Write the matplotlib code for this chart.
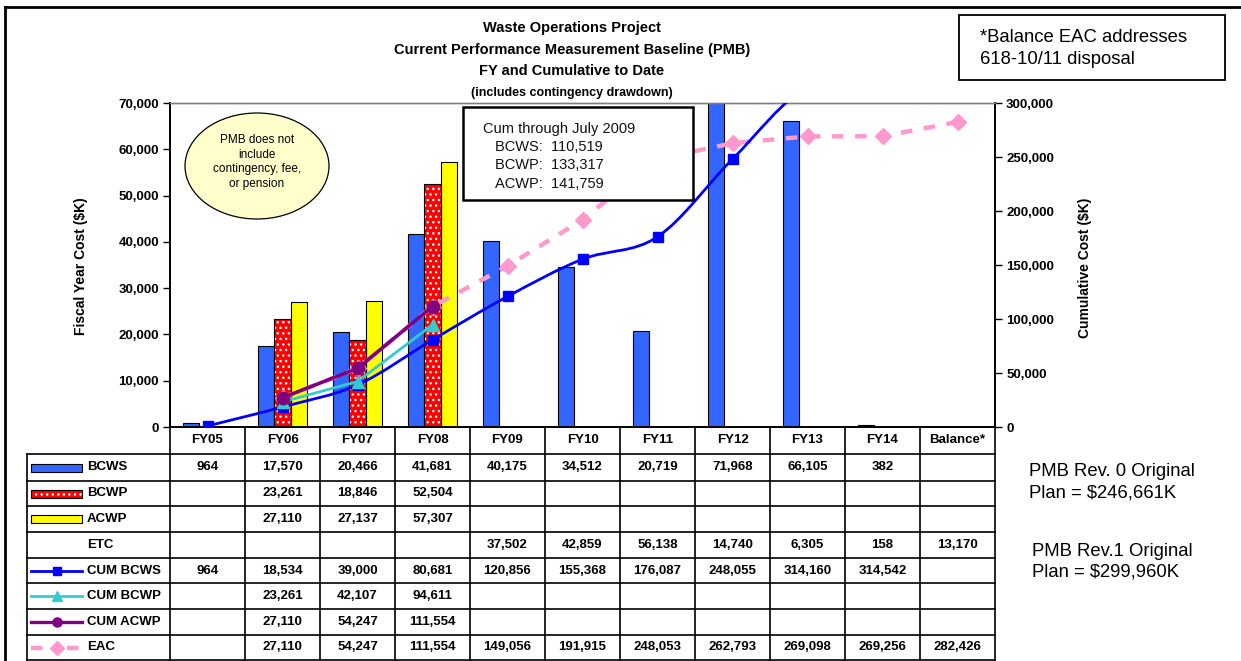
import matplotlib
matplotlib.use('Agg')
import matplotlib.pyplot as plt
import matplotlib.transforms as mtransforms
from matplotlib.patches import Rectangle, Ellipse, PathPatch
from matplotlib.lines import Line2D
from matplotlib.path import Path
from matplotlib.ticker import FuncFormatter
import numpy as np

# ---------------- data ----------------
categories = ['FY05', 'FY06', 'FY07', 'FY08', 'FY09', 'FY10', 'FY11', 'FY12', 'FY13', 'FY14', 'Balance*']
bcws = [964, 17570, 20466, 41681, 40175, 34512, 20719, 71968, 66105, 382, None]
bcwp = [None, 23261, 18846, 52504, None, None, None, None, None, None, None]
acwp = [None, 27110, 27137, 57307, None, None, None, None, None, None, None]
etc = [None, None, None, None, 37502, 42859, 56138, 14740, 6305, 158, 13170]
cum_bcws = [964, 18534, 39000, 80681, 120856, 155368, 176087, 248055, 314160, 314542, None]
cum_bcwp = [None, 23261, 42107, 94611, None, None, None, None, None, None, None]
cum_acwp = [None, 27110, 54247, 111554, None, None, None, None, None, None, None]
eac = [None, 27110, 54247, 111554, 149056, 191915, 248053, 262793, 269098, 269256, 282426]

left_ticks = [0, 10000, 20000, 30000, 40000, 50000, 60000, 70000]
right_ticks = [0, 50000, 100000, 150000, 200000, 250000, 300000]

row_labels = ['BCWS', 'BCWP', 'ACWP', 'ETC', 'CUM BCWS', 'CUM BCWP', 'CUM ACWP', 'EAC']
row_values = [bcws, bcwp, acwp, etc, cum_bcws, cum_bcwp, cum_acwp, eac]

title_lines = ['Waste Operations Project', 'Current Performance Measurement Baseline (PMB)',
               'FY and Cumulative to Date']
subtitle = '(includes contingency drawdown)'
cum_box_lines = ['Cum through July 2009', 'BCWS:  110,519', 'BCWP:  133,317', 'ACWP:  141,759']
ellipse_text = 'PMB does not\ninclude\ncontingency, fee,\nor pension'
note_lines = ['*Balance EAC addresses', '618-10/11 disposal']
rev0_lines = ['PMB Rev. 0 Original', 'Plan = $246,661K']
rev1_lines = ['PMB Rev.1 Original', 'Plan = $299,960K']

# ---------------- style ----------------
plt.rcParams['font.family'] = ['Liberation Sans', 'DejaVu Sans']
C_BCWS = '#3366FF'
C_BCWP = '#FF0000'
C_ACWP = '#FFFF00'
C_CBCWS = '#0000FF'
C_CBCWP = '#33CCCC'
C_CACWP = '#800080'
C_EAC = '#FF99CC'
HATCH = '...'

W, H = 1241, 661
fig = plt.figure(figsize=(W / 100, H / 100), dpi=100)


def fx(x):
    return x / W


def fy(y):
    return 1 - y / H


AX_L, AX_R, AX_T, AX_B = 170, 995, 103, 427
ax = fig.add_axes([fx(AX_L), fy(AX_B), (AX_R - AX_L) / W, (AX_B - AX_T) / H])
ax2 = ax.twinx()

n = len(categories)
x = np.arange(n)
ax.set_xlim(-0.5, n - 0.5)
ax.set_ylim(left_ticks[0], left_ticks[-1])
ax2.set_ylim(right_ticks[0], right_ticks[-1])

bw = 0.215


def sel(vals):
    idx = [i for i, v in enumerate(vals) if v is not None]
    return np.array(idx), np.array([vals[i] for i in idx], dtype=float)


plt.rcParams['hatch.linewidth'] = 1.0
# bars
i_b, v_b = sel(bcws)
ax.bar(i_b - bw, v_b, width=bw, color=C_BCWS, edgecolor='black', linewidth=0.8, zorder=2)
i_p, v_p = sel(bcwp)
ax.bar(i_p, v_p, width=bw, color=C_BCWP, edgecolor='white', hatch=HATCH, linewidth=0, zorder=2)
ax.bar(i_p, v_p, width=bw, fill=False, edgecolor='black', linewidth=0.8, zorder=2.1)
i_a, v_a = sel(acwp)
ax.bar(i_a + bw, v_a, width=bw, color=C_ACWP, edgecolor='black', linewidth=0.8, zorder=2)

# lines on the cumulative axis
i_e, v_e = sel(eac)
ax2.plot(i_e, v_e, color=C_EAC, lw=3.2, ls=(0, (2.6, 2.6)), marker='D', ms=8.5,
         markeredgecolor=C_EAC, zorder=3)

i_c, v_c = sel(cum_bcws)
pts = np.column_stack([i_c, v_c])
verts = [tuple(pts[0])]
codes = [Path.MOVETO]
for k in range(len(pts) - 1):
    p0 = pts[k - 1] if k > 0 else pts[k]
    p1 = pts[k]
    p2 = pts[k + 1]
    p3 = pts[k + 2] if k + 2 < len(pts) else pts[k + 1]
    c1 = p1 + (p2 - p0) / 6.0
    c2 = p2 - (p3 - p1) / 6.0
    verts += [tuple(c1), tuple(c2), tuple(p2)]
    codes += [Path.CURVE4, Path.CURVE4, Path.CURVE4]
ax2.add_patch(PathPatch(Path(verts, codes), fill=False, edgecolor=C_CBCWS, lw=2.0, zorder=4))
ax2.plot(i_c, v_c, ls='none', marker='s', ms=6.5, color=C_CBCWS, zorder=4.5)

i_cp, v_cp = sel(cum_bcwp)
ax2.plot(i_cp, v_cp, color=C_CBCWP, lw=2.0, marker='^', ms=9, zorder=5)
i_ca, v_ca = sel(cum_acwp)
ax2.plot(i_ca, v_ca, color=C_CACWP, lw=2.6, marker='o', ms=9, zorder=6)

# axes styling
fmt = FuncFormatter(lambda v, p: f'{int(v):,}')
for a, ticks in ((ax, left_ticks), (ax2, right_ticks)):
    a.set_yticks(ticks)
    a.yaxis.set_major_formatter(fmt)
    a.tick_params(axis='y', direction='out', length=5, width=1, labelsize=9.5, pad=3)
    for lbl in a.get_yticklabels():
        lbl.set_fontweight('bold')
ax.set_xticks(x)
ax.set_xticklabels(categories, fontweight='bold', fontsize=9.5)
ax.tick_params(axis='x', length=0, pad=5)
for a in (ax, ax2):
    a.spines['top'].set_color('#808080')
    a.spines['top'].set_linewidth(1.0)
    a.spines['left'].set_linewidth(1.2)
    a.spines['right'].set_linewidth(1.2)
    a.spines['bottom'].set_linewidth(1.2)
ax.patch.set_alpha(0)

fig.text(fx(81), fy(266), 'Fiscal Year Cost ($K)', rotation=90, ha='center', va='center',
         fontsize=10, fontweight='bold')
fig.text(fx(1085), fy(268), 'Cumulative Cost ($K)', rotation=90, ha='center', va='center',
         fontsize=10, fontweight='bold')

# ---------------- data table ----------------
trans = mtransforms.blended_transform_factory(ax.transData, fig.transFigure)
row_edges = [454, 481, 506, 532, 558, 583, 609, 635, 660]
TL = 27
lw_t = 1.2
for yy in row_edges:
    fig.add_artist(Line2D([fx(TL), fx(AX_R)], [fy(yy), fy(yy)], color='black', lw=lw_t))
fig.add_artist(Line2D([fx(TL), fx(TL)], [fy(row_edges[0]), fy(row_edges[-1])], color='black', lw=lw_t))
for b in np.arange(n + 1) - 0.5:
    fig.add_artist(Line2D([b, b], [fy(AX_B), fy(row_edges[-1])], color='black', lw=lw_t,
                          transform=trans))

sym_l, sym_r = 31, 82
for r, (lab, vals) in enumerate(zip(row_labels, row_values)):
    yc = (row_edges[r] + row_edges[r + 1]) / 2
    fig.text(fx(87), fy(yc), lab, ha='left', va='center', fontsize=9.5, fontweight='bold')
    for i, v in enumerate(vals):
        if v is not None:
            fig.text(i, fy(yc), f'{v:,}', ha='center', va='center', fontsize=9.5,
                     fontweight='bold', transform=trans)
    # legend keys
    if lab == 'BCWS':
        fig.add_artist(Rectangle((fx(sym_l), fy(yc + 4)), (sym_r - sym_l) / W, 8 / H,
                                 facecolor=C_BCWS, edgecolor='black', lw=0.8))
    elif lab == 'BCWP':
        fig.add_artist(Rectangle((fx(sym_l), fy(yc + 4)), (sym_r - sym_l) / W, 8 / H,
                                 facecolor=C_BCWP, edgecolor='white', hatch=HATCH, lw=0))
        fig.add_artist(Rectangle((fx(sym_l), fy(yc + 4)), (sym_r - sym_l) / W, 8 / H,
                                 fill=False, edgecolor='black', lw=0.8))
    elif lab == 'ACWP':
        fig.add_artist(Rectangle((fx(sym_l), fy(yc + 4)), (sym_r - sym_l) / W, 8 / H,
                                 facecolor=C_ACWP, edgecolor='black', lw=0.8))
    elif lab == 'CUM BCWS':
        fig.add_artist(Line2D([fx(sym_l), fx(sym_r)], [fy(yc)] * 2, color=C_CBCWS, lw=2))
        fig.add_artist(Line2D([fx((sym_l + sym_r) / 2)], [fy(yc)], color=C_CBCWS, marker='s', ms=6))
    elif lab == 'CUM BCWP':
        fig.add_artist(Line2D([fx(sym_l), fx(sym_r)], [fy(yc)] * 2, color=C_CBCWP, lw=2))
        fig.add_artist(Line2D([fx((sym_l + sym_r) / 2)], [fy(yc)], color=C_CBCWP, marker='^', ms=7))
    elif lab == 'CUM ACWP':
        fig.add_artist(Line2D([fx(sym_l), fx(sym_r)], [fy(yc)] * 2, color=C_CACWP, lw=2.4))
        fig.add_artist(Line2D([fx((sym_l + sym_r) / 2)], [fy(yc)], color=C_CACWP, marker='o', ms=6.5))
    elif lab == 'EAC':
        fig.add_artist(Line2D([fx(sym_l), fx(sym_r)], [fy(yc)] * 2, color=C_EAC, lw=3.2,
                              ls=(0, (2.6, 5.5))))
        fig.add_artist(Line2D([fx((sym_l + sym_r) / 2)], [fy(yc)], color=C_EAC, marker='D', ms=7))

# ---------------- annotations ----------------
title_y = [28, 50, 71]
for t, yy in zip(title_lines, title_y):
    fig.text(fx(572), fy(yy), t, ha='center', va='center', fontsize=10.5, fontweight='bold')
fig.text(fx(572), fy(93), subtitle, ha='center', va='center', fontsize=9, fontweight='bold')

# outer frame (partially visible)
fig.add_artist(Line2D([fx(5), fx(W)], [fy(7), fy(7)], color='black', lw=2))
fig.add_artist(Line2D([fx(5), fx(5)], [fy(7), fy(H)], color='black', lw=2))

# note box top right
fig.add_artist(Rectangle((fx(959), fy(80)), (1225 - 959) / W, (80 - 15) / H,
                         facecolor='white', edgecolor='black', lw=1.3, zorder=5))
for t, yy in zip(note_lines, [37, 59]):
    fig.text(fx(980), fy(yy), t, ha='left', va='center', fontsize=13.3, zorder=6)

for t, yy in zip(rev0_lines, [472, 493]):
    fig.text(fx(1029), fy(yy), t, ha='left', va='center', fontsize=13.3)
for t, yy in zip(rev1_lines, [551, 572]):
    fig.text(fx(1032), fy(yy), t, ha='left', va='center', fontsize=13.3)

# cum box
fig.add_artist(Rectangle((fx(463), fy(200)), (693 - 463) / W, (200 - 107) / H,
                         facecolor='white', edgecolor='black', lw=1.8, zorder=5))
fig.text(fx(483), fy(129), cum_box_lines[0], ha='left', va='center', fontsize=10.5,
         color='#111111', zorder=6)
for t, yy in zip(cum_box_lines[1:], [147, 165, 184]):
    fig.text(fx(495), fy(yy), t, ha='left', va='center', fontsize=10.5, color='#111111', zorder=6)

# ellipse
fig.add_artist(Ellipse((fx(257), fy(166)), 144 / W, 106 / H, facecolor='#FFFFCC',
                       edgecolor='black', lw=0.9, zorder=5))
fig.text(fx(257), fy(162), ellipse_text, ha='center', va='center', fontsize=8.5,
         linespacing=1.3, zorder=6)

fig.savefig('out.png', dpi=100)
